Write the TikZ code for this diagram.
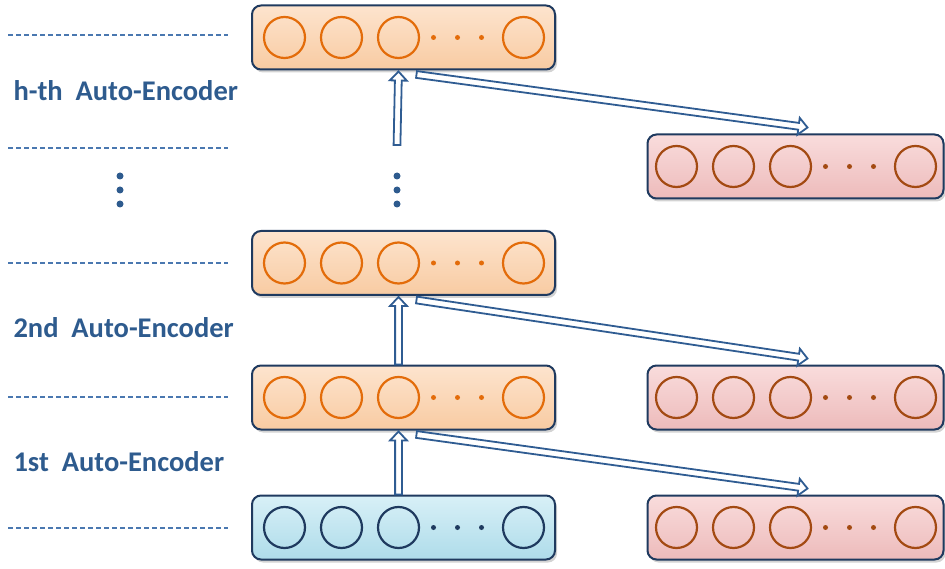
\documentclass[tikz,border=0pt]{standalone}
\usepackage{fontspec}
\setmainfont{Carlito}
\usetikzlibrary{arrows.meta,shadows,calc}
\definecolor{navy}{HTML}{1F3A5F}
\definecolor{txtblue}{HTML}{2E5B8E}
\definecolor{dashblue}{HTML}{4A78B0}
\definecolor{arrblue}{HTML}{2F5C92}
\definecolor{orng}{HTML}{E36C0A}
\definecolor{brwn}{HTML}{A34A12}
\definecolor{peachT}{HTML}{FDE4CE}
\definecolor{peachB}{HTML}{F8CBA2}
\definecolor{pinkT}{HTML}{F9DCDC}
\definecolor{pinkB}{HTML}{EDBBBB}
\definecolor{blueT}{HTML}{D8F0F7}
\definecolor{blueB}{HTML}{AEDCEA}
\tikzset{
  layerbox/.style={rectangle, rounded corners=9pt, draw=navy, line width=2pt,
    minimum height=64pt, drop shadow={shadow xshift=2pt, shadow yshift=-3pt, opacity=0.35}},
  peach/.style={top color=peachT, bottom color=peachB},
  pinkb/.style={top color=pinkT, bottom color=pinkB},
  blueb/.style={top color=blueT, bottom color=blueB},
  unit/.style={circle, draw=#1, line width=2.2pt, minimum size=41pt, inner sep=0pt},
  smalldot/.style={circle, fill=#1, minimum size=5pt, inner sep=0pt},
  bigdot/.style={circle, fill=txtblue, minimum size=7pt, inner sep=0pt},
  sep/.style={dashblue, line width=1.3pt, dash pattern=on 5pt off 3pt},
  label/.style={text=txtblue, font=\bfseries\fontsize{28.5}{33}\selectfont, anchor=west},
  blockarr/.style={draw=arrblue, fill=white, line width=1.8pt, line join=miter},
}
\newcommand\mylayer[6]{% name, cx, cy, width, fill style, circle colour
  \node[layerbox, #5, minimum width=#4pt] (#1) at (#2,#3) {};
  \node[unit=#6] (#1-c1) at ($(#1.center)+(-119,0)$) {};
  \node[unit=#6] (#1-c2) at ($(#1.center)+(-62,0)$) {};
  \node[unit=#6] (#1-c3) at ($(#1.center)+(-5,0)$) {};
  \node[smalldot=#6] (#1-d1) at ($(#1.center)+(30,0)$) {};
  \node[smalldot=#6] (#1-d2) at ($(#1.center)+(54,0)$) {};
  \node[smalldot=#6] (#1-d3) at ($(#1.center)+(78,0)$) {};
  \node[unit=#6] (#1-c4) at ($(#1.center)+(120,0)$) {};
}
% hollow block arrow: prefix, from, to
\newcommand\blockarrow[3]{%
  \coordinate (#1-a) at (#2);
  \coordinate (#1-t) at (#3);
  \coordinate (#1-b) at ($(#1-t)!9pt!(#1-a)$);
  \draw[blockarr] ($(#1-a)!3.4pt!90:(#1-t)$) -- ($(#1-b)!3.4pt!90:(#1-t)$)
    -- ($(#1-b)!8.5pt!90:(#1-t)$) -- (#1-t) -- ($(#1-b)!8.5pt!-90:(#1-t)$)
    -- ($(#1-b)!3.4pt!-90:(#1-t)$) -- ($(#1-a)!3.4pt!-90:(#1-t)$) -- cycle;
}
\begin{document}
\begin{tikzpicture}[x=1pt,y=-1pt]
\useasboundingbox (0,0) rectangle (945,569);
% separators
\foreach \yy in {35,148,263,397,528} \draw[sep] (8,\yy) -- (228,\yy);
% labels
\node[label] (lh) at (10,91) {h-th\ \ Auto-Encoder};
\node[label] (l2) at (10,328) {2nd\ \ Auto-Encoder};
\node[label] (l1) at (10,462) {1st\ \ Auto-Encoder};
% vertical ellipsis
\node[bigdot] (vl1) at (120,176) {};
\node[bigdot] (vl2) at (120,190) {};
\node[bigdot] (vl3) at (120,204) {};
\node[bigdot] (vm1) at (397,176) {};
\node[bigdot] (vm2) at (397,190) {};
\node[bigdot] (vm3) at (397,204) {};
% layers
\mylayer{hh}{403.5}{37.5}{303}{peach}{orng}
\mylayer{h2}{403.5}{263}{303}{peach}{orng}
\mylayer{h1}{403.5}{397.5}{303}{peach}{orng}
\mylayer{in}{403.5}{527.5}{303}{blueb}{navy}
\mylayer{rh}{795.5}{166.5}{296}{pinkb}{brwn}
\mylayer{r2}{795.5}{397.5}{296}{pinkb}{brwn}
\mylayer{r1}{795.5}{527.5}{296}{pinkb}{brwn}
% vertical arrows
\coordinate (tailh) at (397,145);
\blockarrow{va1}{in-c3 |- in.north}{$(h1-c3 |- h1.south)+(0,1)$}
\blockarrow{va2}{h1-c3 |- h1.north}{$(h2-c3 |- h2.south)+(0,1)$}
\blockarrow{va3}{tailh}{$(hh-c3 |- hh.south)+(0,1)$}
% diagonal arrows
\blockarrow{da3}{$(hh.south)+(13,4)$}{$(rh.north)+(12,-6)$}
\blockarrow{da2}{$(h2.south)+(13,4)$}{$(r2.north)+(12,-6)$}
\blockarrow{da1}{$(h1.south)+(13,4)$}{$(r1.north)+(12,-6)$}
\end{tikzpicture}
\end{document}
